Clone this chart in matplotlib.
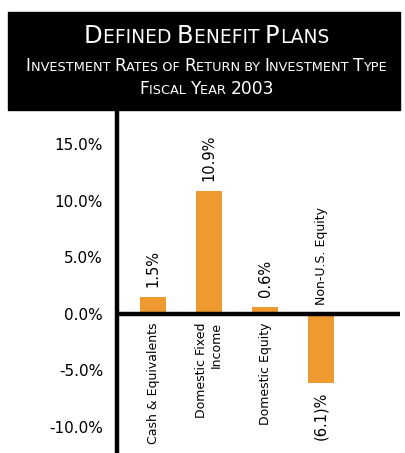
import matplotlib
matplotlib.use('Agg')
import matplotlib.pyplot as plt
from matplotlib.patches import Rectangle

# returns by investment type, FY 2003
categories = ['Cash & Equivalents', 'Domestic Fixed\nIncome', 'Domestic Equity', 'Non-U.S. Equity']
returns = [1.5, 10.9, 0.6, -6.1]
value_labels = ['1.5%', '10.9%', '0.6%', '(6.1)%']
yticks = [-10, -5, 0, 5, 10, 15]
ytick_labels = ['-10.0%', '-5.0%', '0.0%', '5.0%', '10.0%', '15.0%']

# header lines as (text, size) pieces to fake small caps
title_lines = [
    [('D', 17.5), ('EFINED ', 13.4), ('B', 17.5), ('ENEFIT ', 13.4), ('P', 17.5), ('LANS', 13.4)],
    [('I', 12.3), ('NVESTMENT ', 9.3), ('R', 12.3), ('ATES OF ', 9.3), ('R', 12.3), ('ETURN BY ', 9.3),
     ('I', 12.3), ('NVESTMENT ', 9.3), ('T', 12.3), ('YPE', 9.3)],
    [('F', 12.3), ('ISCAL ', 9.3), ('Y', 12.3), ('EAR ', 9.3), ('2003', 12.3)],
]
title_y = [453 - 43, 453 - 71, 453 - 94]   # baselines in pixels from bottom

W, H = 405, 453
orange = '#EE9A30'
plt.rcParams['font.family'] = 'DejaVu Sans'

fig = plt.figure(figsize=(W / 100, H / 100), dpi=100)

# black header box
fig.patches.append(Rectangle((8 / W, (H - 110) / H), 392 / W, 98 / H,
                             transform=fig.transFigure, color='black', zorder=0))

# header text, pieces laid out left to right then centred
renderer = fig.canvas.get_renderer()
for pieces, yb in zip(title_lines, title_y):
    texts = [fig.text(0, yb / H, s, color='white', fontsize=size, va='baseline', ha='left')
             for s, size in pieces]
    widths = [t.get_window_extent(renderer).width for t in texts]
    x = (W - sum(widths)) / 2 + 4
    for t, w in zip(texts, widths):
        t.set_x(x / W)
        x += w

# plot area: left spine at x=117, top under the header
ax = fig.add_axes([117 / W, 0, 283 / W, 343 / H])
x = list(range(len(categories)))
ax.bar(x, returns, width=0.46, color=orange, zorder=2)
ax.set_xlim(-0.643, 4.41)
ax.set_ylim(-12.3, 18.05)
ax.axhline(0, color='black', lw=3.2, zorder=3)

for s in ['top', 'right', 'bottom']:
    ax.spines[s].set_visible(False)
ax.spines['left'].set_linewidth(3.2)
ax.set_xticks([])
ax.set_yticks(yticks)
ax.set_yticklabels(ytick_labels, fontsize=11)
ax.tick_params(axis='y', length=0, pad=10)

for xi, v, lab, cat in zip(x, returns, value_labels, categories):
    if v >= 0:
        ax.annotate(lab, (xi, v), xytext=(0, 7), textcoords='offset points',
                    rotation=90, ha='center', va='bottom', fontsize=10.5)
        ax.annotate(cat, (xi, 0), xytext=(0, -6), textcoords='offset points',
                    rotation=90, ha='center', va='top', fontsize=9,
                    multialignment='right')
    else:
        ax.annotate(lab, (xi, v), xytext=(0, -6.5), textcoords='offset points',
                    rotation=90, ha='center', va='top', fontsize=10.5)
        ax.annotate(cat, (xi, 0), xytext=(0, 6.5), textcoords='offset points',
                    rotation=90, ha='center', va='bottom', fontsize=9)

fig.savefig('out.png', dpi=100)
